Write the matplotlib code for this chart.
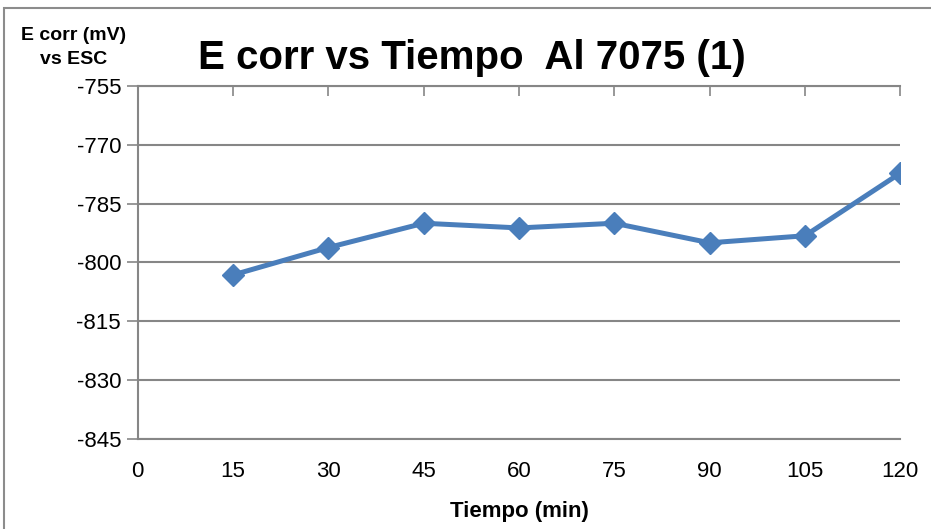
import matplotlib.pyplot as plt
from matplotlib.patches import Rectangle

# Corrosion potential readings over time
tiempo = [15, 30, 45, 60, 75, 90, 105, 120]
e_corr = [-803.2, -796.2, -790.0, -791.2, -790.0, -795.0, -793.2, -777.2]

x_ticks = [0, 15, 30, 45, 60, 75, 90, 105, 120]
y_ticks = [-845, -830, -815, -800, -785, -770, -755]

plt.rcParams['font.family'] = ['Liberation Sans', 'DejaVu Sans']
plt.rcParams['axes.unicode_minus'] = False

fig = plt.figure(figsize=(9.31, 5.29), dpi=100)
ax = fig.add_axes([0.148, 0.171, 0.819, 0.666])

grid_color = '#868686'
ax.plot(tiempo, e_corr, color='#4A7EBB', linewidth=3.6, marker='D',
        markersize=11, zorder=3)

ax.set_xlim(0, 120)
ax.set_ylim(-845, -755)
ax.set_xticks(x_ticks)
ax.set_yticks(y_ticks)
ax.yaxis.grid(True, color=grid_color, linewidth=1.5)

# horizontal axis sits at the top (crosses at -755), labels stay at the bottom
ax.tick_params(axis='x', top=True, bottom=False, labeltop=False, labelbottom=True,
               direction='in', length=7, width=1.2, color=grid_color,
               labelsize=16, pad=16)
ax.tick_params(axis='y', direction='out', length=8, width=1.2, color=grid_color,
               labelsize=16, pad=4)

for side in ['left', 'top', 'bottom']:
    ax.spines[side].set_color(grid_color)
    ax.spines[side].set_linewidth(1.5)
ax.spines['right'].set_visible(False)

ax.set_xlabel('Tiempo (min)', fontsize=16, fontweight='bold', labelpad=14)

fig.text(0.507, 0.89, 'E corr vs Tiempo  Al 7075 (1)', ha='center', va='center',
         fontsize=29, fontweight='bold')
fig.text(0.079, 0.91, 'E corr (mV)\nvs ESC', ha='center', va='center',
         fontsize=14, fontweight='bold', linespacing=1.5)

# chart frame
fig.patches.append(Rectangle((4 / 931, -0.01), 1.0, 1 - 8 / 529 + 0.01,
                             transform=fig.transFigure, fill=False,
                             edgecolor='#8c8c8c', linewidth=1.5))

fig.savefig('out.png', dpi=100)
